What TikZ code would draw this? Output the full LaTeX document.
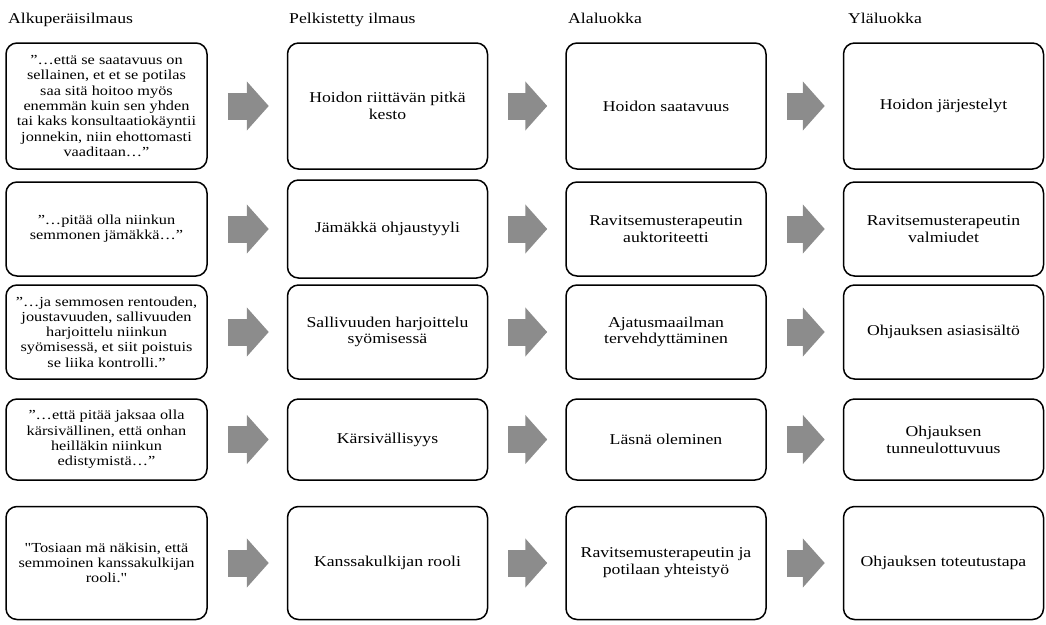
\documentclass[tikz,border=0pt]{standalone}
\usepackage{fontspec}
\setmainfont{Liberation Serif}[FakeStretch=1.18, Ligatures=TeXOff]
\usetikzlibrary{arrows.meta}
\definecolor{arrowgray}{RGB}{140,140,140}
\tikzset{
  quotebox/.style={draw, line width=1.5pt, rounded corners=11pt, minimum width=201pt,
    align=center, inner sep=2pt, font=\fontsize{13.8}{15.3}\selectfont},
  catbox/.style={draw, line width=1.5pt, rounded corners=11pt, minimum width=200pt,
    align=center, inner sep=2pt, font=\fontsize{15}{16.8}\selectfont},
  colhead/.style={anchor=base west, inner sep=0pt, font=\fontsize{15}{16.8}\selectfont},
  flowarrow/.style={arrowgray, line width=27pt, -{Triangle[length=22pt,width=48pt]},
    shorten <=20pt, shorten >=18pt}
}
\begin{document}
\begin{tikzpicture}[x=1pt, y=-1pt]
\useasboundingbox (0,0) rectangle (1046,624);

% Column titles
\node[colhead] (h1) at (8,23) {Alkuperäisilmaus};
\node[colhead] (h2) at (289,23) {Pelkistetty ilmaus};
\node[colhead] (h3) at (568,23) {Alaluokka};
\node[colhead] (h4) at (848,23) {Yläluokka};

% Row 1
\node[quotebox, minimum height=126pt] (q1) at (106.5,106) {”…että se saatavuus on\\sellainen, et et se potilas\\saa sitä hoitoo myös\\enemmän kuin sen yhden\\tai kaks konsultaatiokäyntii\\jonnekin, niin ehottomasti\\vaaditaan…”};
\node[catbox, minimum height=126pt] (p1) at (387.5,106) {Hoidon riittävän pitkä\\kesto};
\node[catbox, minimum height=126pt] (s1) at (666,106) {Hoidon saatavuus};
\node[catbox, minimum height=126pt] (u1) at (943.5,106) {Hoidon järjestelyt};

% Row 2
\node[quotebox, minimum height=94pt] (q2) at (106.5,229) {”…pitää olla niinkun\\semmonen jämäkkä…”};
\node[catbox, minimum height=98pt] (p2) at (387.5,229) {Jämäkkä ohjaustyyli};
\node[catbox, minimum height=94pt] (s2) at (666,229) {Ravitsemusterapeutin\\auktoriteetti};
\node[catbox, minimum height=94pt] (u2) at (943.5,229) {Ravitsemusterapeutin\\valmiudet};

% Row 3
\node[quotebox, minimum height=94pt] (q3) at (106.5,332) {”…ja semmosen rentouden,\\joustavuuden, sallivuuden\\harjoittelu niinkun\\syömisessä, et siit poistuis\\se liika kontrolli.”};
\node[catbox, minimum height=94pt] (p3) at (387.5,332) {Sallivuuden harjoittelu\\syömisessä};
\node[catbox, minimum height=94pt] (s3) at (666,332) {Ajatusmaailman\\tervehdyttäminen};
\node[catbox, minimum height=94pt] (u3) at (943.5,332) {Ohjauksen asiasisältö};

% Row 4
\node[quotebox, minimum height=81pt] (q4) at (106.5,439.5) {”…että pitää jaksaa olla\\kärsivällinen, että onhan\\heilläkin niinkun\\edistymistä…”};
\node[catbox, minimum height=81pt] (p4) at (387.5,439.5) {Kärsivällisyys};
\node[catbox, minimum height=81pt] (s4) at (666,439.5) {Läsnä oleminen};
\node[catbox, minimum height=81pt] (u4) at (943.5,439.5) {Ohjauksen\\tunneulottuvuus};

% Row 5
\node[quotebox, minimum height=113pt] (q5) at (106.5,563) {"Tosiaan mä näkisin, että\\semmoinen kanssakulkijan\\rooli."};
\node[catbox, minimum height=113pt] (p5) at (387.5,563) {Kanssakulkijan rooli};
\node[catbox, minimum height=113pt] (s5) at (666,563) {Ravitsemusterapeutin ja\\potilaan yhteistyö};
\node[catbox, minimum height=113pt] (u5) at (943.5,563) {Ohjauksen toteutustapa};

% Block arrows between the columns
\draw[flowarrow] (q1) -- (p1);
\draw[flowarrow] (p1) -- (s1);
\draw[flowarrow] (s1) -- (u1);
\draw[flowarrow] (q2) -- (p2);
\draw[flowarrow] (p2) -- (s2);
\draw[flowarrow] (s2) -- (u2);
\draw[flowarrow] (q3) -- (p3);
\draw[flowarrow] (p3) -- (s3);
\draw[flowarrow] (s3) -- (u3);
\draw[flowarrow] (q4) -- (p4);
\draw[flowarrow] (p4) -- (s4);
\draw[flowarrow] (s4) -- (u4);
\draw[flowarrow] (q5) -- (p5);
\draw[flowarrow] (p5) -- (s5);
\draw[flowarrow] (s5) -- (u5);
\end{tikzpicture}
\end{document}
